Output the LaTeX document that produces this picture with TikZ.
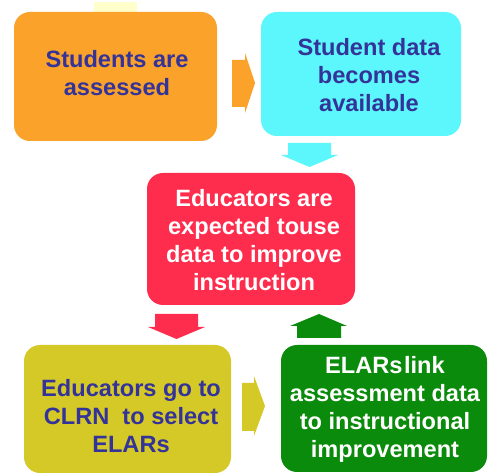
\documentclass[tikz,border=0pt]{standalone}
\usepackage{fontspec}
\setmainfont{Liberation Sans}
\definecolor{cOrange}{HTML}{FAA22A}
\definecolor{cCyan}{HTML}{5CF7FD}
\definecolor{cRed}{HTML}{FF2D4D}
\definecolor{cOlive}{HTML}{D5C928}
\definecolor{cGreen}{HTML}{0B8B0B}
\definecolor{cPale}{HTML}{FFFFCC}
\definecolor{cInk}{HTML}{333399}
\begin{document}
\begin{tikzpicture}[x=1pt,y=-1pt,
  box/.style={rounded corners=16pt, inner sep=0pt},
  words/.style={font=\fontsize{23.6}{28}\selectfont\bfseries, align=center, inner sep=0pt}]
\useasboundingbox (0,0) rectangle (491,473);

% small tab above the first step
\fill[cPale] (94,2) rectangle (137,12);

% step boxes
\node[box, fill=cOrange, minimum width=203pt, minimum height=129pt] (assess) at (115.5,76.5) {};
\node[box, fill=cCyan,   minimum width=200pt, minimum height=124pt] (data)   at (361,74) {};
\node[box, fill=cRed,    minimum width=208pt, minimum height=132pt] (use)    at (251,239) {};
\node[box, fill=cOlive,  minimum width=207pt, minimum height=128pt] (clrn)   at (127.5,409) {};
\node[box, fill=cGreen,  minimum width=206pt, minimum height=127pt] (elars)  at (384,408.5) {};

% step texts
\node[words, text=cInk]  (tassess) at (117,73)    {Students are\\assessed};
\node[words, text=cInk]  (tdata)   at (369,75)    {Student data\\becomes\\available};
\node[words, text=white] (tuse)    at (254,240)   {Educators are\\expected touse\\data to improve\\instruction};
\node[words, text=cInk]  (tclrn)   at (131,416)   {Educators go to\\CLRN\ \ to select\\ELARs};
\node[words, text=white] (telars)  at (385,409.5) {ELARs\hspace{1.5pt}link\\assessment data\\to instructional\\improvement};

% block arrows between the steps
\fill[cOrange] (232,60) -- (245,60) -- (245,53) -- (255,83) -- (245,113) -- (245,107) -- (232,107) -- cycle;
\fill[cCyan]   (288,143) -- (331,143) -- (331,155) -- (338,155) -- (309.5,167) -- (281,155) -- (288,155) -- cycle;
\fill[cRed]    (155,314) -- (198,314) -- (198,327) -- (205,327) -- (176.5,339) -- (148,327) -- (155,327) -- cycle;
\fill[cGreen]  (297,338) -- (341,338) -- (341,326) -- (347,326) -- (319,314) -- (290,326) -- (297,326) -- cycle;
\fill[cOlive]  (242,383) -- (254,383) -- (254,376) -- (265,406) -- (254,436) -- (254,431) -- (242,431) -- cycle;
\end{tikzpicture}
\end{document}
